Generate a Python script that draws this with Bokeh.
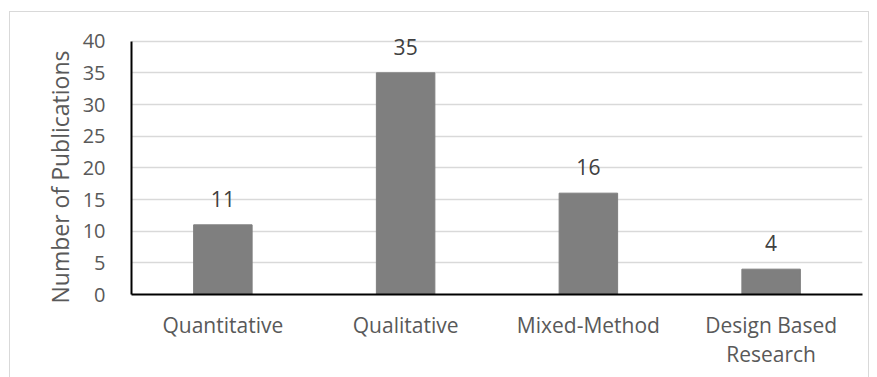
from bokeh.plotting import figure
from bokeh.models import FactorRange, Range1d, FixedTicker, ColumnDataSource, Title
from bokeh.embed import file_html
from bokeh.resources import INLINE
from bokeh.core.properties import value

categories = ["Quantitative", "Qualitative", "Mixed-Method", "Design Based\nResearch"]
counts = [11, 35, 16, 4]
y_ticks = [0, 5, 10, 15, 20, 25, 30, 35, 40]
y_title = "Number of Publications"

FONT = "Open Sans"
TXT = "#595959"

src = ColumnDataSource(data=dict(cat=categories, n=counts, lab=[str(c) for c in counts]))

p = figure(width=860, height=366, x_range=FactorRange(*categories), y_range=Range1d(0, 42),
           output_backend="svg", toolbar_location=None,
           min_border_left=121, min_border_right=8, min_border_top=16, min_border_bottom=84)
p.margin = (11, 0, 0, 9)
p.styles = {"border-top": "1px solid #d9d9d9", "border-left": "1px solid #d9d9d9",
            "border-right": "1px solid #d9d9d9", "box-sizing": "border-box"}

p.vbar(x="cat", top="n", width=0.32, source=src, color="#7f7f7f")
p.text(x="cat", y="n", text="lab", source=src, text_align="center", text_baseline="alphabetic",
       y_offset=-26, text_font=value(FONT), text_font_size="21px", text_color="#404040")

p.outline_line_color = None
p.xgrid.grid_line_color = None
p.ygrid.grid_line_color = "#d9d9d9"
p.ygrid.grid_line_width = 1.5

p.yaxis.ticker = FixedTicker(ticks=y_ticks)
p.yaxis.bounds = (0, 40)
for ax in (p.xaxis[0], p.yaxis[0]):
    ax.axis_line_color = "black"
    ax.axis_line_width = 2
    ax.major_tick_line_color = None
    ax.minor_tick_line_color = None
    ax.major_label_text_font = FONT
    ax.major_label_text_color = TXT

p.yaxis.major_label_text_font_size = "20px"
p.xaxis.major_label_text_font_size = "21px"
p.xaxis.major_label_text_line_height = 1.05
p.yaxis.major_label_standoff = 20
p.xaxis.major_label_standoff = 10

p.add_layout(Title(text=y_title, align="left", offset=-9, standoff=8,
                   text_font=FONT, text_font_size="23px", text_font_style="normal",
                   text_color=TXT), "left")

open("out.html", "w").write(file_html(p, INLINE))
